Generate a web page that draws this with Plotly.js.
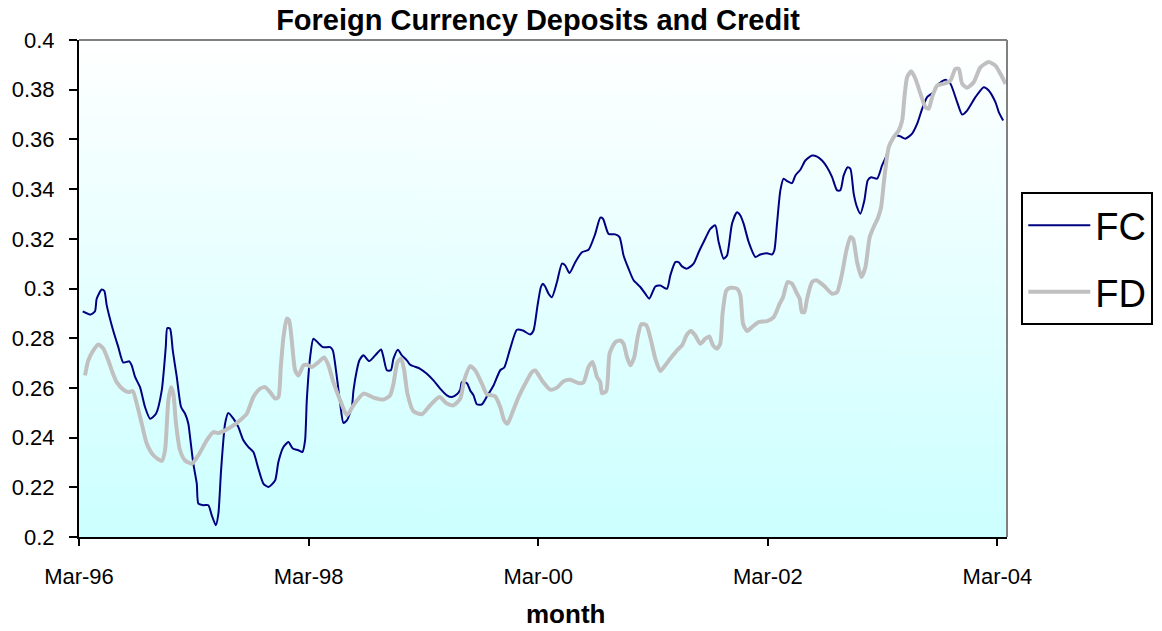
<!DOCTYPE html>
<html>
<head>
<meta charset="utf-8">
<script src="https://cdn.plot.ly/plotly-3.0.1.min.js"></script>
<style>
html,body{margin:0;padding:0;background:#fff;}
#chart{width:1162px;height:631px;}
</style>
</head>
<body>
<div id="chart"></div>
<script>
// Months since Mar-96 and values
const fcMonth = [0.39,1.22,1.67,1.85,2.37,2.65,2.90,3.52,4.11,4.63,
5.26,5.51,5.86,6.38,6.90,7.43,8.05,8.65,9.07,9.23,
9.52,9.80,10.22,10.67,11.09,11.43,11.61,11.95,12.31,12.48,
13.00,13.52,13.88,14.30,14.57,14.85,15.27,15.61,16.14,16.66,
17.18,17.71,18.23,18.75,19.27,19.80,20.50,20.84,21.37,21.89,
22.35,22.93,23.35,23.63,23.81,24.16,24.50,25.03,25.49,26.25,
26.53,26.95,27.30,27.64,28.00,28.52,28.69,29.04,29.31,29.73,
30.33,30.96,31.58,31.82,32.18,32.60,32.87,33.33,33.75,34.27,
34.62,35.66,36.36,37.05,37.75,38.45,38.98,39.50,39.85,40.02,
40.55,40.89,41.24,41.59,42.11,42.64,43.33,44.03,44.45,45.07,
45.77,46.40,47.16,47.51,47.93,48.28,48.49,48.73,49.08,49.43,
49.96,50.48,50.82,51.27,51.87,52.57,53.26,53.96,54.49,54.77,
55.35,56.05,56.50,56.92,57.44,57.97,58.67,59.19,59.61,60.24,
60.76,61.46,61.81,62.33,62.67,63.03,63.55,64.24,64.77,65.29,
65.99,66.51,66.86,67.38,67.74,68.26,68.78,69.13,69.47,70.00,
70.70,71.22,71.92,72.44,72.68,72.96,73.31,73.65,74.01,74.53,
74.88,75.40,75.92,76.62,77.15,77.67,78.19,78.72,79.24,79.58,
79.93,80.35,80.63,80.98,81.33,81.67,82.09,82.44,82.79,83.42,
83.94,84.40,84.81,85.34,85.86,86.38,87.08,87.61,88.13,88.65,
89.34,89.86,90.56,91.09,91.79,92.31,92.83,93.70,94.57,95.09,
95.79,96.14,96.60];

const fcValue = [0.2908,0.2895,0.2908,0.2959,0.2996,0.299,0.2932,0.2838,0.2764,0.2702,
0.2707,0.2691,0.2644,0.2603,0.2523,0.2476,0.2496,0.259,0.2764,0.2841,
0.2838,0.2751,0.2644,0.2523,0.2496,0.2456,0.2402,0.2295,0.2215,0.2134,
0.2128,0.2128,0.2087,0.2047,0.2094,0.2268,0.2456,0.2499,0.2476,0.2442,
0.2389,0.2362,0.2342,0.2275,0.2215,0.2201,0.2228,0.2302,0.2362,0.2382,
0.2356,0.2349,0.2342,0.2389,0.255,0.2724,0.2798,0.278,0.2764,0.2764,
0.2751,0.2644,0.2537,0.2459,0.2469,0.2523,0.259,0.2671,0.2711,0.2731,
0.2708,0.2731,0.2755,0.2724,0.2671,0.2671,0.2718,0.2754,0.2731,0.2711,
0.2693,0.2677,0.2657,0.263,0.2597,0.257,0.2563,0.2574,0.2593,0.2623,
0.2619,0.259,0.257,0.2534,0.2534,0.2566,0.261,0.2671,0.2682,0.2758,
0.2834,0.2831,0.2815,0.2831,0.2932,0.3006,0.3019,0.3008,0.2979,0.2965,
0.3026,0.31,0.3093,0.3062,0.3106,0.3146,0.3156,0.322,0.3285,0.3281,
0.322,0.3218,0.3207,0.3133,0.308,0.3033,0.3006,0.2979,0.2959,0.3008,
0.3012,0.2999,0.3053,0.3106,0.3106,0.3089,0.308,0.31,0.3146,0.3187,
0.324,0.3254,0.3187,0.312,0.3133,0.3261,0.3307,0.3294,0.3261,0.3187,
0.3127,0.3137,0.3142,0.3137,0.3153,0.3261,0.3395,0.3442,0.3432,0.3424,
0.3455,0.3478,0.3515,0.3535,0.3531,0.3515,0.3488,0.3448,0.3395,0.3395,
0.3455,0.3488,0.3482,0.3381,0.3327,0.3301,0.3354,0.3435,0.3448,0.3442,
0.3495,0.3535,0.3582,0.3616,0.3612,0.3603,0.3623,0.3663,0.3723,0.377,
0.379,0.3824,0.384,0.3824,0.375,0.37,0.3716,0.377,0.381,0.3797,
0.375,0.371,0.3676];

const fdMonth = [0.63,0.97,1.50,2.02,2.54,3.06,3.42,3.94,4.63,5.16,
5.62,6.03,6.56,7.08,7.77,8.65,8.99,9.34,9.62,9.86,
10.14,10.56,11.09,11.79,12.48,13.35,14.05,14.57,15.27,16.14,
17.02,17.54,18.23,18.93,19.45,19.97,20.50,20.84,21.09,21.37,
21.72,21.96,22.24,22.59,22.93,23.46,23.81,24.34,25.03,25.62,
26.07,26.59,27.30,28.00,28.69,29.73,30.78,31.82,32.52,32.87,
33.29,33.67,33.99,34.33,34.96,35.84,36.71,37.68,38.45,39.14,
39.85,40.26,40.89,41.41,42.11,42.64,43.50,44.03,44.45,44.79,
45.25,45.94,46.82,47.37,47.69,48.39,49.26,49.96,50.65,51.35,
52.22,52.74,53.26,53.68,54.14,54.49,54.66,55.11,55.46,56.05,
56.58,56.92,57.28,57.62,58.04,58.39,58.77,59.30,59.79,60.24,
60.76,61.28,61.81,62.51,63.03,63.55,63.97,64.42,64.94,65.47,
65.88,66.27,66.69,67.03,67.27,67.66,68.08,68.78,69.13,69.41,
69.83,70.35,71.04,71.92,72.61,73.24,73.59,74.07,74.53,74.98,
75.33,75.56,75.82,76.10,76.62,77.07,77.84,78.72,79.24,79.76,
80.21,80.63,80.91,81.33,81.78,82.20,82.65,83.14,83.48,83.84,
84.11,84.40,84.64,85.16,85.68,86.04,86.28,86.56,86.98,87.43,
87.95,88.47,88.82,89.17,89.70,90.39,91.09,91.61,91.96,92.31,
92.83,93.52,94.22,95.09,95.79,96.31,96.84];

const fdValue = [0.265,0.2711,0.2751,0.2775,0.2758,0.2711,0.2671,0.2623,0.2593,0.2583,
0.2587,0.2537,0.2456,0.2376,0.2329,0.2306,0.2349,0.255,0.2603,0.2577,
0.2456,0.2349,0.2308,0.2295,0.2329,0.2389,0.2422,0.2418,0.2429,0.2449,
0.2476,0.2496,0.2563,0.2597,0.2603,0.2583,0.2557,0.2563,0.2684,0.2804,
0.2879,0.2872,0.2791,0.2671,0.265,0.2691,0.2693,0.2684,0.2704,0.2722,
0.2691,0.2623,0.255,0.249,0.253,0.2577,0.2561,0.2553,0.257,0.2617,
0.2704,0.2718,0.2671,0.2577,0.2506,0.2494,0.253,0.2563,0.2537,0.253,
0.2557,0.263,0.2687,0.2671,0.2617,0.2574,0.2566,0.2523,0.2469,0.2456,
0.2496,0.2563,0.263,0.2665,0.267,0.263,0.2593,0.2601,0.2627,0.2633,
0.2619,0.2623,0.2684,0.2704,0.2644,0.2623,0.2579,0.2587,0.2738,0.2784,
0.2791,0.2778,0.2724,0.2691,0.2724,0.2804,0.2856,0.2852,0.2791,0.2718,
0.2668,0.2691,0.2718,0.2751,0.2771,0.2815,0.2829,0.2811,0.2778,0.2798,
0.2807,0.2771,0.2758,0.2778,0.2899,0.2992,0.3003,0.2999,0.2972,0.2858,
0.2829,0.2845,0.2865,0.2869,0.2885,0.2939,0.2965,0.3026,0.3019,0.2985,
0.2959,0.2905,0.2905,0.2959,0.3026,0.3033,0.3012,0.2979,0.2985,0.306,
0.3153,0.3207,0.32,0.3106,0.3046,0.3086,0.3207,0.3254,0.3281,0.3327,
0.3421,0.3515,0.3569,0.3609,0.3636,0.3676,0.377,0.385,0.3874,0.3844,
0.3784,0.373,0.3723,0.377,0.3817,0.3824,0.3837,0.3884,0.3884,0.3824,
0.3808,0.383,0.389,0.3911,0.3897,0.3864,0.3824];

const xTickVals = [0, 24, 48, 72, 96];
const xTickText = ['Mar-96', 'Mar-98', 'Mar-00', 'Mar-02', 'Mar-04'];
const yTickVals = [0.2, 0.22, 0.24, 0.26, 0.28, 0.3, 0.32, 0.34, 0.36, 0.38, 0.4];
const yTickText = ['0.2', '0.22', '0.24', '0.26', '0.28', '0.3', '0.32', '0.34', '0.36', '0.38', '0.4'];

// vertical gradient background for the plot area
const cv = document.createElement('canvas');
cv.width = 4; cv.height = 256;
const ctx = cv.getContext('2d');
const g = ctx.createLinearGradient(0, 0, 0, 256);
g.addColorStop(0, '#FFFFFF');
g.addColorStop(1, '#CCFFFF');
ctx.fillStyle = g;
ctx.fillRect(0, 0, 4, 256);
const bgURL = cv.toDataURL('image/png');

const FONT = '"Liberation Sans", Arial, Helvetica, sans-serif';

const traces = [
  {
    x: fcMonth, y: fcValue, name: 'FC', type: 'scatter', mode: 'lines',
    line: {color: '#000080', width: 2, shape: 'spline', smoothing: 0.6},
    legendgroup: 'fc'
  },
  {
    x: fdMonth, y: fdValue, name: 'FD', type: 'scatter', mode: 'lines',
    line: {color: '#C0C0C0', width: 4, shape: 'spline', smoothing: 0.6},
    legendgroup: 'fd'
  }
];

const layout = {
  width: 1162, height: 631,
  margin: {l: 79, r: 155, t: 40, b: 94, pad: 0, autoexpand: false},
  paper_bgcolor: '#FFFFFF',
  plot_bgcolor: 'rgba(0,0,0,0)',
  font: {family: FONT, color: '#000000', size: 22},
  title: {
    text: '<b>Foreign Currency Deposits and Credit</b>',
    font: {family: FONT, size: 29, color: '#000'},
    x: 0.463, xanchor: 'center', xref: 'container',
    y: 0.969, yanchor: 'middle', yref: 'container'
  },
  xaxis: {
    range: [0, 97], tickmode: 'array', tickvals: xTickVals, ticktext: xTickText,
    showgrid: false, zeroline: false, automargin: false,
    showline: true, linecolor: '#000', linewidth: 2,
    ticks: 'outside', ticklen: 7, tickwidth: 2, tickcolor: '#000',
    ticklabelstandoff: 12,
    tickfont: {family: FONT, size: 22, color: '#000'}
  },
  yaxis: {
    range: [0.2, 0.4], tickmode: 'array', tickvals: yTickVals, ticktext: yTickText,
    showgrid: false, zeroline: false, automargin: false,
    showline: true, linecolor: '#000', linewidth: 2,
    ticks: 'outside', ticklen: 8, tickwidth: 2, tickcolor: '#000',
    ticklabelstandoff: 10,
    tickfont: {family: FONT, size: 22, color: '#000'}
  },
  annotations: [{
    text: '<b>month</b>', xref: 'paper', yref: 'paper',
    x: 0.524, xanchor: 'center', y: -0.19, yanchor: 'bottom',
    showarrow: false, font: {family: FONT, size: 26, color: '#000'}
  }],
  showlegend: true,
  legend: {
    x: 1.0154, xanchor: 'left', y: 0.694, yanchor: 'top',
    bgcolor: '#FFFFFF', bordercolor: '#000', borderwidth: 2,
    font: {family: FONT, size: 38, color: '#000'},
    itemwidth: 62, entrywidth: 145, entrywidthmode: 'pixels',
    traceorder: 'grouped', tracegroupgap: 14
  },
  images: [{
    source: bgURL, xref: 'paper', yref: 'paper', x: 0, y: 1,
    sizex: 1, sizey: 1, sizing: 'stretch', xanchor: 'left', yanchor: 'top',
    layer: 'below'
  }],
  shapes: [
    {type: 'line', xref: 'paper', yref: 'paper', x0: 0, x1: 1, y0: 1, y1: 1,
     line: {color: '#808080', width: 2}},
    {type: 'line', xref: 'paper', yref: 'paper', x0: 1, x1: 1, y0: 0, y1: 1,
     line: {color: '#808080', width: 2}}
  ]
};

Plotly.newPlot('chart', traces, layout, {displayModeBar: false, staticPlot: true});
</script>
</body>
</html>
